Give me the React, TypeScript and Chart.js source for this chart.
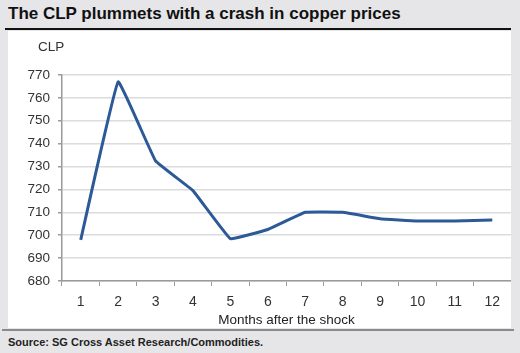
import React, { useEffect, useRef } from "react";
import { Chart, registerables } from "chart.js";

Chart.register(...registerables);

const months = ["1", "2", "3", "4", "5", "6", "7", "8", "9", "10", "11", "12"];
const clpValues = [698, 767, 732.5, 719.5, 698.5, 702.5, 710, 710, 707.2, 706.2, 706.2, 706.7];
const yMin = 680;
const yMax = 770;
const yStep = 10;

export default function App() {
  const ref = useRef<HTMLCanvasElement | null>(null);

  useEffect(() => {
    if (!ref.current) return;
    const chart = new Chart(ref.current, {
      type: "line",
      data: {
        labels: months,
        datasets: [
          {
            data: clpValues,
            borderColor: "#2c5a98",
            borderWidth: 3,
            pointRadius: 0,
            tension: 0.07,
            fill: false,
          },
        ],
      },
      options: {
        responsive: false,
        animation: false,
        layout: { padding: { top: 44, right: 0, left: 0, bottom: 0 } },
        plugins: { legend: { display: false }, tooltip: { enabled: false }, title: { display: false } },
        scales: {
          x: {
            type: "category",
            offset: true,
            grid: {
              offset: true,
              drawOnChartArea: false,
              drawTicks: true,
              tickLength: 5,
              color: "#9a9a9a",
            },
            border: { color: "#9a9a9a", width: 1.5 },
            ticks: {
              color: "#333",
              font: { family: "Liberation Sans, Arial", size: 14 },
              padding: 8,
              maxRotation: 0,
            },
            title: {
              display: true,
              text: "Months after the shock",
              color: "#222",
              font: { family: "Liberation Sans, Arial", size: 13.5 },
              padding: { top: 7, bottom: 0 },
            },
            afterFit: (s: any) => {
              s.height = 47;
            },
          },
          y: {
            min: yMin,
            max: yMax,
            ticks: {
              stepSize: yStep,
              color: "#333",
              font: { family: "Liberation Sans, Arial", size: 13.5 },
              padding: 8,
            },
            grid: {
              color: "#dcdcdc",
              lineWidth: 1.5,
              tickLength: 4,
              tickColor: "#9a9a9a",
            },
            border: { color: "#9a9a9a", width: 1.5 },
            afterFit: (s: any) => {
              s.width = 54;
            },
          },
        },
      },
    });
    return () => chart.destroy();
  }, []);

  return (
    <div
      style={{
        position: "absolute",
        left: 0,
        top: 0,
        width: 520,
        height: 353,
        background: "#e6e6e8",
        fontFamily: "Liberation Sans, Arial, sans-serif",
        overflow: "hidden",
      }}
    >
      <div
        style={{
          position: "absolute",
          left: 8,
          top: 4,
          fontSize: 17,
          fontWeight: "bold",
          color: "#111",
          whiteSpace: "nowrap",
          lineHeight: "20px",
        }}
      >
        The CLP plummets with a crash in copper prices
      </div>
      <div style={{ position: "absolute", left: 5, top: 28, width: 506, height: 2, background: "#111" }} />
      <div style={{ position: "absolute", left: 8, top: 31, width: 503, height: 297, background: "#fff" }}>
        <canvas ref={ref} width={503} height={297} style={{ position: "absolute", left: 0, top: 0 }} />
        <div style={{ position: "absolute", left: 30, top: 8, fontSize: 13.5, color: "#333", lineHeight: "16px" }}>CLP</div>
      </div>
      <div style={{ position: "absolute", left: 2, top: 329, width: 512, height: 1.5, background: "#8a8a8a" }} />
      <div
        style={{
          position: "absolute",
          left: 8,
          top: 335,
          fontSize: 11,
          fontWeight: "bold",
          color: "#222",
          whiteSpace: "nowrap",
          lineHeight: "14px",
        }}
      >
        Source: SG Cross Asset Research/Commodities.
      </div>
    </div>
  );
}
